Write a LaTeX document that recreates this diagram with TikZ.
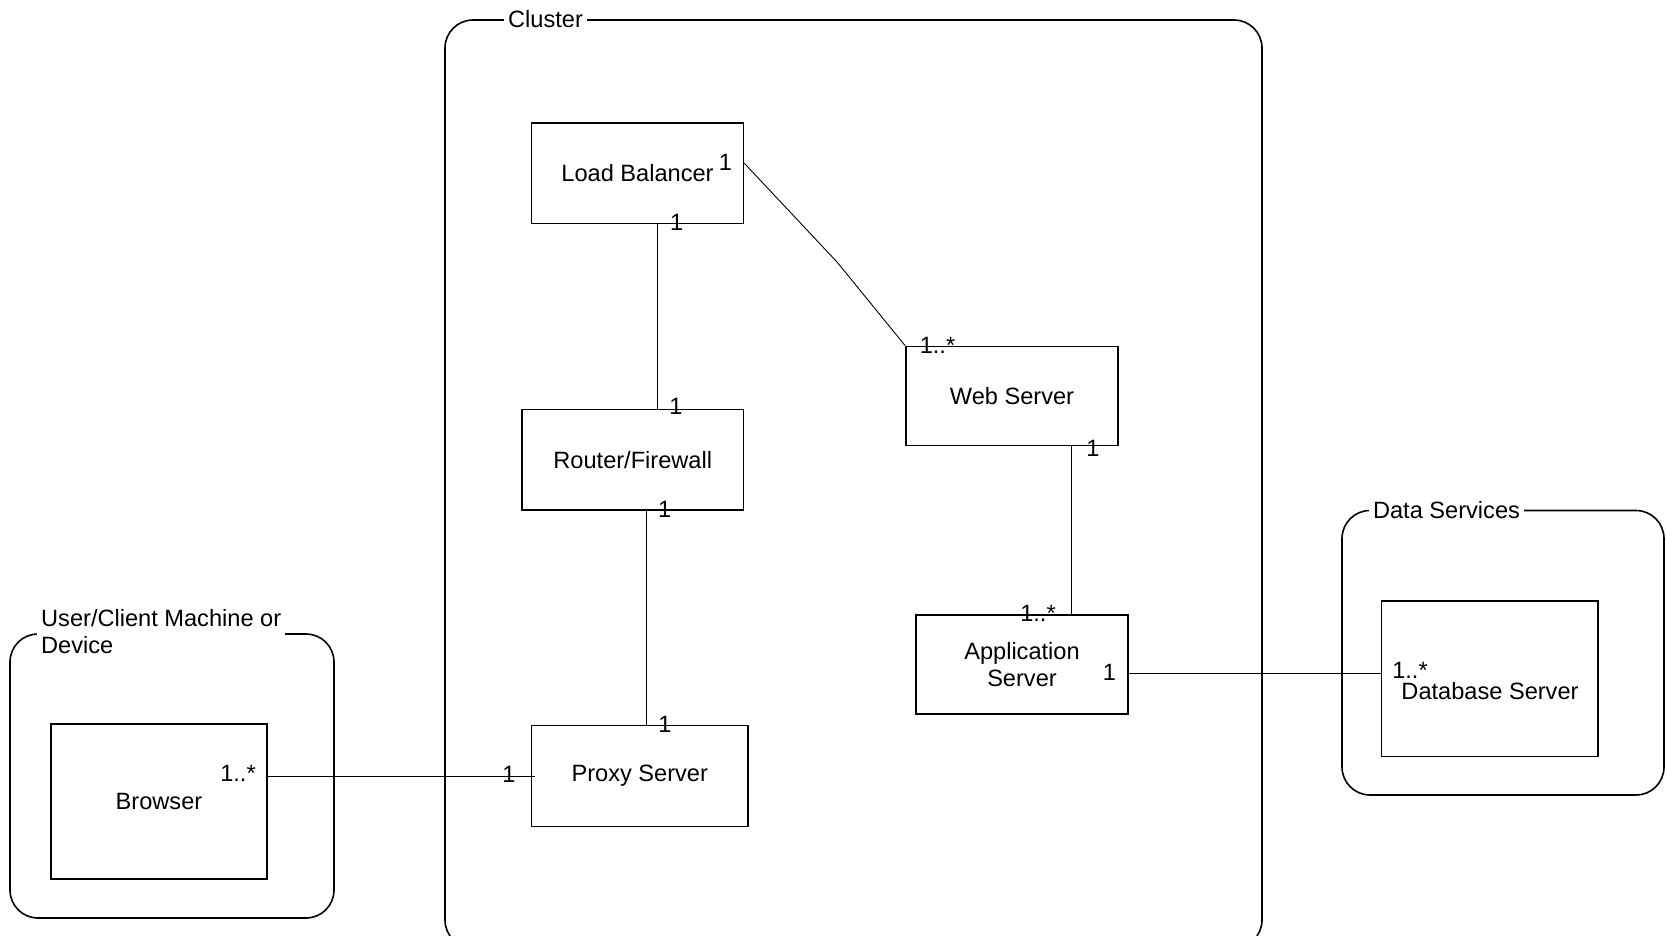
\documentclass[tikz,border=0pt]{standalone}
\usepackage{fontspec}
\setmainfont{Liberation Sans}
\begin{document}
\begin{tikzpicture}[x=1pt,y=-1pt,
  every node/.style={font=\fontsize{23.6}{27}\selectfont, inner sep=0pt},
  box/.style={draw, line width=1.6pt, rectangle, align=center},
  group/.style={draw, line width=1.6pt, rounded corners=28pt},
  grouplabel/.style={fill=white, inner xsep=4pt, inner ysep=1pt},
  link/.style={line width=0.9pt}]
\useasboundingbox (0,0) rectangle (1666,936);
\clip (0,0) rectangle (1666,936);

% deployment containers
\draw[group] (445,20) rectangle (1262,948);
\draw[group] (10,634) rectangle (334,918);
\draw[group] (1342,510.5) rectangle (1664,795);
\node[grouplabel] (clusterlbl) at (545.5,19) {Cluster};
\node[grouplabel, align=left, anchor=west] (userlbl) at (37,631.5) {User/Client Machine or\\Device};
\node[grouplabel] (datalbl) at (1446.5,509.7) {Data Services};

% components
\node[box, minimum width=212pt, minimum height=100.5pt] (lb) at (637.5,173.25) {Load Balancer};
\node[box, minimum width=221.5pt, minimum height=100.5pt] (rf) at (632.75,459.75) {Router/Firewall};
\node[box, minimum width=216.5pt, minimum height=101pt] (ps) at (639.75,776) {Proxy Server};
\node[box, minimum width=212pt, minimum height=99pt] (ws) at (1012,396) {Web Server};
\node[box, minimum width=212pt, minimum height=99pt] (as) at (1022,664.5) {Application\\Server};
\node[box, minimum width=216pt, minimum height=155pt] (br) at (159,801.2) {Browser};
\node[box, minimum width=216.5pt, minimum height=155.5pt] (db) at (1489.75,678.75) {};
\node (dbtext) at (1490,691) {Database Server};

% guide coordinates for the straight links
\coordinate (xlbrf) at (657,0);
\coordinate (xrfps) at (646.7,0);
\coordinate (xwsas) at (1071,0);
\coordinate (yasdb) at (0,673);
\coordinate (bend) at (837,262);
\coordinate (psin) at ([xshift=4pt]ps.west);

% associations
\draw[link] (lb.south -| xlbrf) -- (rf.north -| xlbrf);
\draw[link] (rf.south -| xrfps) -- (ps.north -| xrfps);
\draw[link] ([yshift=10pt]lb.east) -- (bend) -- (ws.north west);
\draw[link] (ws.south -| xwsas) -- (as.north -| xwsas);
\draw[link] (as.east |- yasdb) -- (db.west |- yasdb);
\draw[link] (br.east |- psin) -- (psin);

% multiplicities
\node (m1) at (725.5,162) {1};
\node (m2) at (676.7,222.5) {1};
\node (m3) at (676,406) {1};
\node (m4) at (664.7,509) {1};
\node (m5) at (665,724.5) {1};
\node (m6) at (509,774) {1};
\node (m7) at (238,773) {1..*};
\node (m8) at (937.5,345.5) {1..*};
\node (m9) at (1093,448) {1};
\node (m10) at (1038,613) {1..*};
\node (m11) at (1109.5,672.5) {1};
\node (m12) at (1410,670.5) {1..*};
\end{tikzpicture}
\end{document}
